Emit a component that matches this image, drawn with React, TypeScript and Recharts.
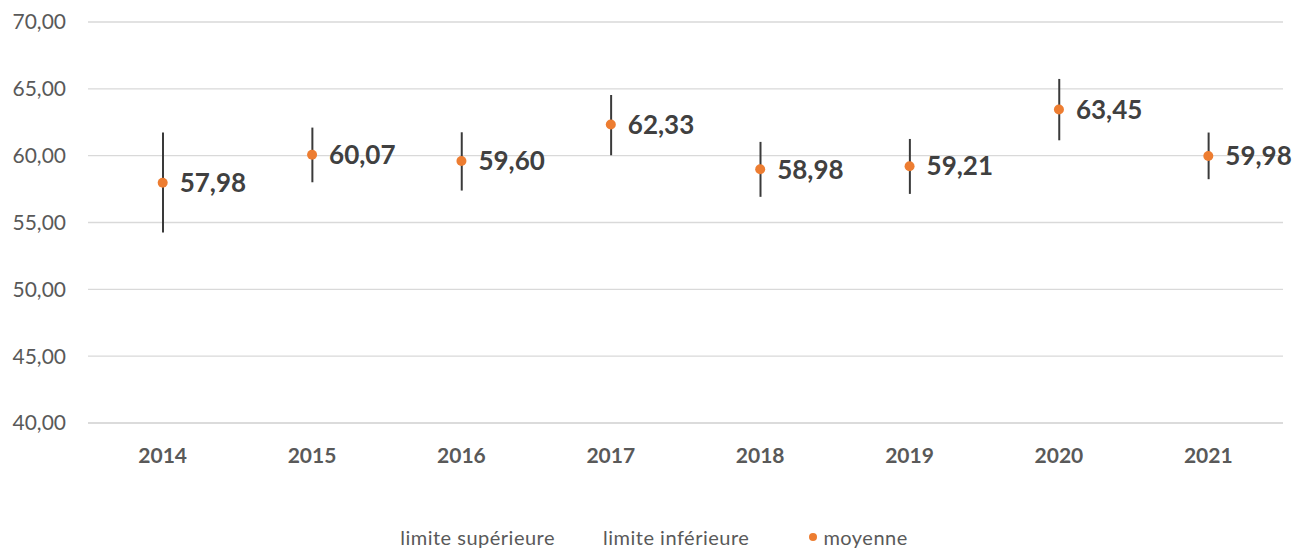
import React from 'react';
import {
  ComposedChart,
  Bar,
  Line,
  XAxis,
  YAxis,
  CartesianGrid,
  Legend,
  LabelList,
} from 'recharts';

const years = ['2014', '2015', '2016', '2017', '2018', '2019', '2020', '2021'];
const upper = [61.73, 62.1, 61.75, 64.54, 61.03, 61.25, 65.74, 61.73];
const lower = [54.25, 58.01, 57.39, 60.03, 56.92, 57.14, 61.15, 58.24];
const mean = [57.98, 60.07, 59.6, 62.33, 58.98, 59.21, 63.45, 59.98];
const yTicks = [40, 45, 50, 55, 60, 65, 70];

const data = years.map((year, i) => ({
  year,
  upper: upper[i],
  lower: lower[i],
  range: [lower[i], upper[i]],
  mean: mean[i],
}));

const fmt = (v: number) => v.toFixed(2).replace('.', ',');

const FONT = 'Lato, "Open Sans", sans-serif';
const ORANGE = '#ED7D31';

function LegendContent() {
  return (
    <div
      style={{
        display: 'flex',
        justifyContent: 'center',
        alignItems: 'center',
        height: 24,
        fontFamily: FONT,
        fontSize: 20,
        letterSpacing: 0.5,
        color: '#595959',
      }}
    >
      <span style={{ marginRight: 48 }}>limite supérieure</span>
      <span style={{ marginRight: 60 }}>limite inférieure</span>
      <span
        style={{
          display: 'inline-block',
          width: 8,
          height: 8,
          borderRadius: 4,
          background: ORANGE,
          marginRight: 6,
        }}
      />
      <span>moyenne</span>
    </div>
  );
}

export default function App() {
  return (
    <div style={{ position: 'absolute', top: 0, left: 0, width: 1308, height: 549, background: '#fff' }}>
      <ComposedChart
        width={1308}
        height={549}
        data={data}
        margin={{ top: 22, right: 25, left: 0, bottom: 40 }}
      >
        <CartesianGrid vertical={false} stroke="#d9d9d9" strokeWidth={1.3} />
        <XAxis
          dataKey="year"
          height={62}
          axisLine={{ stroke: '#d9d9d9', strokeWidth: 1.3 }}
          tickLine={false}
          tickSize={0}
          tickMargin={25}
          tick={{ fontFamily: FONT, fontSize: 21, fontWeight: 700, fill: '#595959' }}
        />
        <YAxis
          domain={[40, 70]}
          ticks={yTicks}
          width={88}
          axisLine={false}
          tickLine={false}
          tickSize={0}
          tickMargin={22}
          tickFormatter={fmt}
          tick={{ fontFamily: FONT, fontSize: 21, fill: '#595959' }}
        />
        <Legend
          verticalAlign="bottom"
          height={24}
          wrapperStyle={{ top: 525, left: 0, width: 1308, height: 24, bottom: 'auto' }}
          content={<LegendContent />}
        />
        <Line
          dataKey="upper"
          name="limite supérieure"
          stroke="none"
          dot={false}
          activeDot={false}
          isAnimationActive={false}
        />
        <Line
          dataKey="lower"
          name="limite inférieure"
          stroke="none"
          dot={false}
          activeDot={false}
          isAnimationActive={false}
        />
        <Bar dataKey="range" barSize={2} fill="#3a3a3a" isAnimationActive={false} />
        <Line
          dataKey="mean"
          name="moyenne"
          stroke="none"
          dot={{ r: 5, fill: ORANGE, stroke: 'none' }}
          activeDot={false}
          isAnimationActive={false}
        >
          <LabelList
            dataKey="mean"
            position="right"
            offset={17}
            formatter={(v: number) => fmt(v)}
            style={{ fontFamily: FONT, fontSize: 26, fontWeight: 700, fill: '#404040' }}
          />
        </Line>
      </ComposedChart>
    </div>
  );
}
